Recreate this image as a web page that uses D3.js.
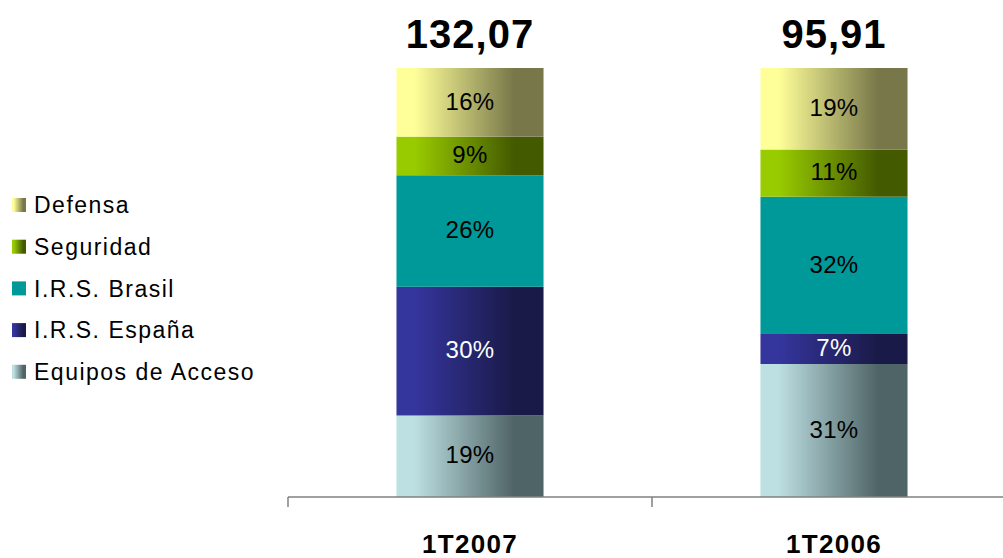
<!DOCTYPE html>
<html><head><meta charset="utf-8">
<script src="https://cdn.jsdelivr.net/npm/d3@7/dist/d3.min.js"></script>
<style>body{margin:0;background:#fff}svg{display:block}text{font-family:"Liberation Sans",Arial,sans-serif}</style>
</head><body>
<svg id="c" width="1003" height="558"></svg>
<script>
const categories = ["1T2007", "1T2006"];
const totals = ["132,07", "95,91"];
const seriesNames = ["Equipos de Acceso", "I.R.S. España", "I.R.S. Brasil", "Seguridad", "Defensa"];
const equipos = [19, 31];
const espana = [30, 7];
const brasil = [26, 32];
const seguridad = [9, 11];
const defensa = [16, 19];
const seriesValues = [equipos, espana, brasil, seguridad, defensa];
const lightColors = ["#bde0e3", "#35359e", "#009999", "#99cc00", "#ffff99"];
const darkColors = ["#4f6466", "#1a1a48", "#009999", "#435a00", "#77774a"];
const labelColors = ["#000", "#fff", "#000", "#000", "#000"];

const svg = d3.select("#c");
const defs = svg.append("defs");
seriesNames.forEach((n, i) => {
  const g = defs.append("linearGradient").attr("id", "g" + i).attr("x1", "0").attr("x2", "1").attr("y1", "0").attr("y2", "0");
  g.append("stop").attr("offset", "0").attr("stop-color", lightColors[i]);
  g.append("stop").attr("offset", "0.12").attr("stop-color", lightColors[i]);
  g.append("stop").attr("offset", "0.8").attr("stop-color", darkColors[i]);
  g.append("stop").attr("offset", "1").attr("stop-color", darkColors[i]);
});

const x = d3.scaleBand().domain(categories).range([288, 1016]).paddingInner(0).paddingOuter(0);
const y = d3.scaleLinear().domain([0, 100]).range([497, 68]);
const bw = x.bandwidth() * 0.404;

const stackData = categories.map((c, ci) => {
  const o = {cat: c};
  seriesNames.forEach((s, si) => o[s] = seriesValues[si][ci]);
  return o;
});
const stacked = d3.stack().keys(seriesNames)(stackData);

stacked.forEach((layer, si) => {
  const g = svg.append("g");
  g.selectAll("rect").data(layer).join("rect")
    .attr("x", d => x(d.data.cat) + x.bandwidth() / 2 - bw / 2)
    .attr("width", bw)
    .attr("y", d => y(d[1]))
    .attr("height", d => y(d[0]) - y(d[1]))
    .attr("fill", `url(#g${si})`);
  g.selectAll("text").data(layer).join("text")
    .attr("x", d => x(d.data.cat) + x.bandwidth() / 2)
    .attr("y", d => (y(d[0]) + y(d[1])) / 2)
    .attr("dy", "0.3em")
    .attr("text-anchor", "middle")
    .attr("font-size", 24)
    .attr("letter-spacing", 0.3)
    .attr("fill", labelColors[si])
    .text(d => (d[1] - d[0]) + "%");
});

// axis
const axis = svg.append("g").attr("transform", "translate(0,497)")
  .call(d3.axisBottom(x).tickSize(0).tickFormat(""));
axis.select(".domain").remove();
axis.append("line").attr("x1", 288).attr("x2", 1016).attr("stroke", "#808080").attr("stroke-width", 1.5);
const edges = [288, x.range()[0] + x.step(), 1016];
axis.selectAll("line.tk").data(edges).join("line").attr("class", "tk")
  .attr("x1", d => d).attr("x2", d => d).attr("y1", 0).attr("y2", 10)
  .attr("stroke", "#808080").attr("stroke-width", 1.5);

svg.selectAll("text.cat").data(categories).join("text").attr("class", "cat")
  .attr("x", d => x(d) + x.bandwidth() / 2).attr("y", 553)
  .attr("text-anchor", "middle").attr("font-size", 26).attr("font-weight", "bold")
  .attr("letter-spacing", 1.3)
  .text(d => d);

svg.selectAll("text.tot").data(categories).join("text").attr("class", "tot")
  .attr("x", d => x(d) + x.bandwidth() / 2).attr("y", 48)
  .attr("text-anchor", "middle").attr("font-size", 40).attr("font-weight", "bold")
  .attr("letter-spacing", 1)
  .text((d, i) => totals[i]);

// legend
const legendOrder = [4, 3, 2, 1, 0];
const lg = svg.append("g");
legendOrder.forEach((si, k) => {
  const cy = 205 + k * 41.7;
  lg.append("rect").attr("x", 12).attr("y", cy - 7).attr("width", 14).attr("height", 14).attr("fill", `url(#g${si})`);
  lg.append("text").attr("x", 34).attr("y", cy).attr("dy", "0.36em").attr("font-size", 23)
    .attr("letter-spacing", 1.5).text(seriesNames[si]);
});
</script>
</body></html>
